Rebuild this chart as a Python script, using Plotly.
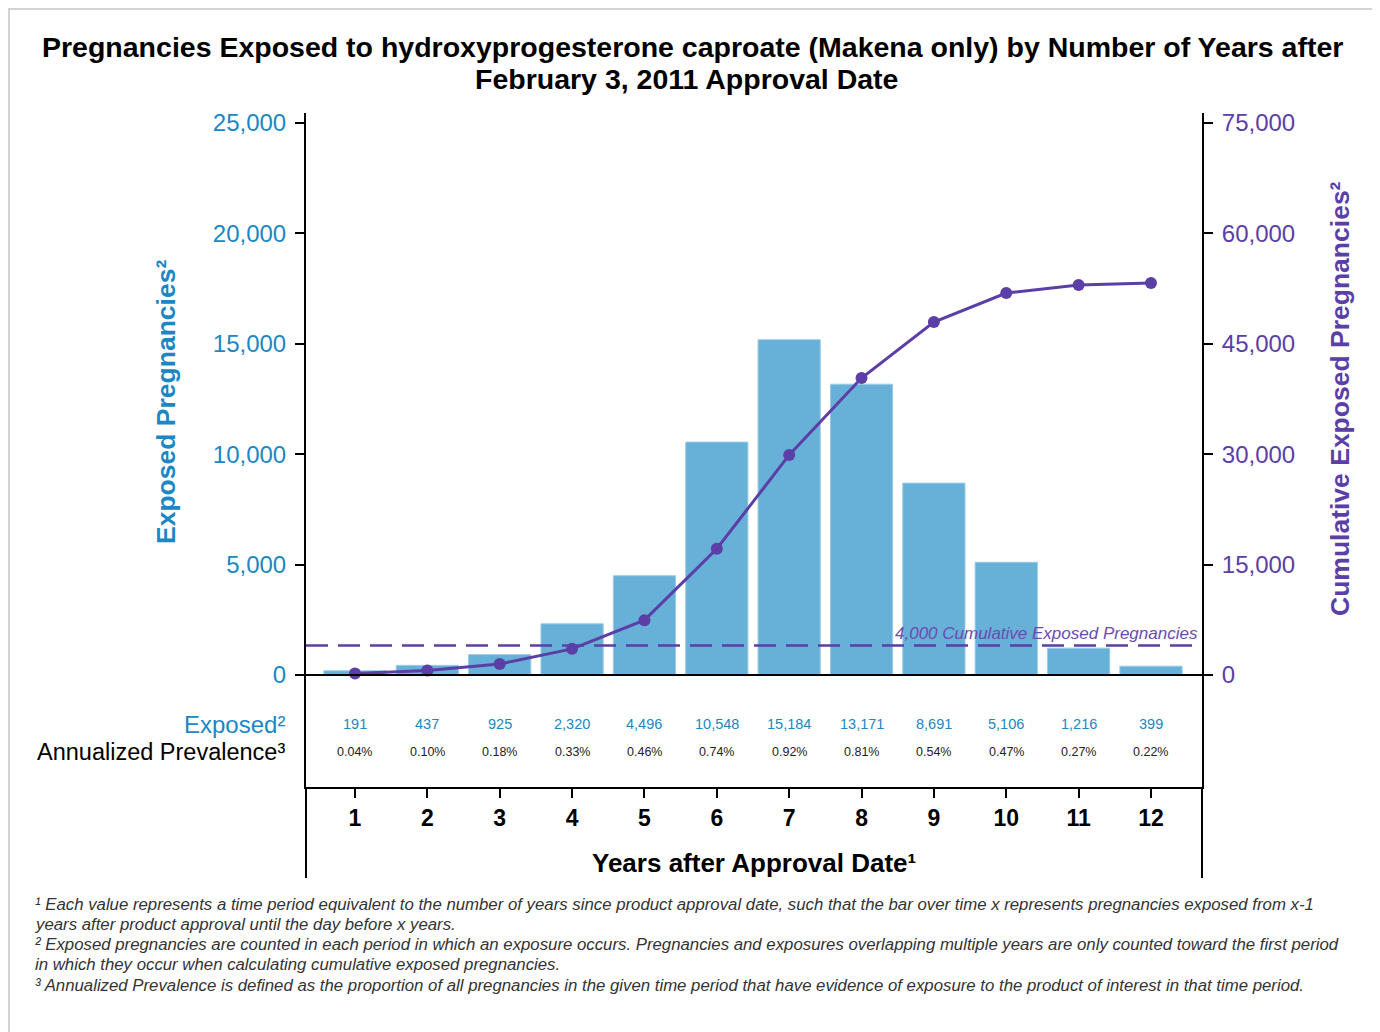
#!/usr/bin/env python

import plotly.graph_objects as go


YEARS = list(range(1, 13))
EXPOSED = [191, 437, 925, 2320, 4496, 10548, 15184, 13171, 8691, 5106, 1216, 399]
CUMULATIVE = [191, 600, 1500, 3550, 7450, 17150, 29900, 40350, 47950, 51900, 53000, 53250]
PREVALENCE = ['0.04%', '0.10%', '0.18%', '0.33%', '0.46%', '0.74%',
              '0.92%', '0.81%', '0.54%', '0.47%', '0.27%', '0.22%']
LEFT_TICKS = [0, 5000, 10000, 15000, 20000, 25000]
RIGHT_TICKS = [0, 15000, 30000, 45000, 60000, 75000]
THRESHOLD = 4000

TITLE_LINES = ['Pregnancies Exposed to hydroxyprogesterone caproate (Makena only) by Number of Years after',
               'February 3, 2011 Approval Date']
FOOTNOTES = [
    '¹ Each value represents a time period equivalent to the number of years since product approval date, '
    'such that the bar over time x represents pregnancies exposed from x-1',
    'years after product approval until the day before x years.',
    '² Exposed pregnancies are counted in each period in which an exposure occurs. Pregnancies and exposures '
    'overlapping multiple years are only counted toward the first period',
    'in which they occur when calculating cumulative exposed pregnancies.',
    '³ Annualized Prevalence is defined as the proportion of all pregnancies in the given time period '
    'that have evidence of exposure to the product of interest in that time period.',
]

BLUE = '#1b87c4'
BAR = '#67b0d7'
PURPLE = '#5b3ea6'
FONT = 'Liberation Sans, Arial, sans-serif'

# page geometry in screenshot pixels; the html body adds an 8px margin
W, H = 1380, 1032
OFF = 8
LEFT, RIGHT, TOP, BOTTOM = 306, 1202, 113, 787


def px_x(x):
    return (x - LEFT) / (RIGHT - LEFT)


def px_y(y):
    return (BOTTOM - y) / (BOTTOM - TOP)


def text(fig, x, y, s, size, color, xanchor='center', **kw):
    fig.add_annotation(x=px_x(x), y=px_y(y), xref='paper', yref='paper', text=s,
                       xanchor=xanchor, yanchor='middle', showarrow=False,
                       font=dict(size=size, color=color, **kw.pop('font', {})), **kw)


def main():
    fig = go.Figure()

    fig.add_trace(go.Bar(x=YEARS, y=EXPOSED, width=0.86,
                         marker=dict(color=BAR, line=dict(color='#9ccbe6', width=1)),
                         showlegend=False, hoverinfo='skip'))
    fig.add_trace(go.Scatter(x=YEARS, y=CUMULATIVE, yaxis='y2', mode='lines+markers',
                             line=dict(color=PURPLE, width=3),
                             marker=dict(color=PURPLE, size=12),
                             showlegend=False))

    # y range chosen so that 0..25,000 sits between the zero line and the top tick
    per_px = 25000 / (675 - 123)
    y_lo = -(BOTTOM - 675) * per_px
    y_hi = 25000 + (123 - TOP) * per_px

    axis_common = dict(showline=True, linecolor='black', linewidth=2,
                       ticks='outside', ticklen=9, tickwidth=2, tickcolor='black',
                       showgrid=False, zeroline=False)
    fig.update_layout(
        width=W - OFF, height=H - OFF,
        margin=dict(l=LEFT - OFF, r=W - RIGHT, t=TOP - OFF, b=H - BOTTOM),
        plot_bgcolor='white', paper_bgcolor='white',
        font=dict(family=FONT, color='black'),
        xaxis=dict(range=[0.323, 12.705], tickvals=YEARS, ticktext=[f'<b>{y}</b>' for y in YEARS],
                   tickfont=dict(size=23, color='black'), **axis_common),
        yaxis=dict(range=[y_lo, y_hi], tickvals=LEFT_TICKS, tickformat=',',
                   tickfont=dict(size=24, color=BLUE), ticklabelstandoff=4, **axis_common),
        yaxis2=dict(range=[3 * y_lo, 3 * y_hi], tickvals=RIGHT_TICKS, tickformat=',',
                    overlaying='y', side='right',
                    tickfont=dict(size=24, color=PURPLE), ticklabelstandoff=4, **axis_common),
    )

    # zero line, threshold line and the axis lines running down past the table
    fig.add_shape(type='line', xref='paper', yref='y', x0=0, x1=1, y0=0, y1=0,
                  line=dict(color='black', width=2))
    fig.add_shape(type='line', xref='paper', yref='y2', x0=0, x1=1, y0=THRESHOLD, y1=THRESHOLD,
                  line=dict(color=PURPLE, width=2.5, dash='22px,10px'))
    for xp in (0, 1):
        fig.add_shape(type='line', xref='paper', yref='paper', x0=xp, x1=xp,
                      y0=px_y(878), y1=0, line=dict(color='black', width=2))
    # thin grey frame of the original picture
    fig.add_shape(type='rect', xref='paper', yref='paper', x0=px_x(OFF + 1), x1=px_x(W + 20),
                  y0=px_y(H + 20), y1=px_y(OFF + 1), line=dict(color='#d4d4d4', width=2))

    fig.add_annotation(x=12.68, y=THRESHOLD, xref='x', yref='y2', xanchor='right', yanchor='bottom',
                       text='4,000 Cumulative Exposed Pregnancies', showarrow=False, yshift=1,
                       font=dict(size=17, color='#6a4bb3', style='italic'))

    # table rows under the chart
    for year, n, p in zip(YEARS, EXPOSED, PREVALENCE):
        fig.add_annotation(x=year, y=px_y(724), xref='x', yref='paper', text=f'{n:,}',
                           xanchor='center', yanchor='middle', showarrow=False,
                           font=dict(size=14.5, color=BLUE))
        fig.add_annotation(x=year, y=px_y(752), xref='x', yref='paper', text=p,
                           xanchor='center', yanchor='middle', showarrow=False,
                           font=dict(size=12.5, color='#222222'))
    text(fig, 287, 724, 'Exposed²', 24, BLUE, xanchor='right')
    text(fig, 287, 752, 'Annualized Prevalence³', 23.5, 'black', xanchor='right')

    # titles
    text(fig, 692, 47, f'<b>{TITLE_LINES[0]}</b>', 28.5, 'black')
    text(fig, 686, 79, f'<b>{TITLE_LINES[1]}</b>', 28.5, 'black')
    text(fig, 754, 863, '<b>Years after Approval Date¹</b>', 26, 'black')
    text(fig, 166, 402, '<b>Exposed Pregnancies²</b>', 26.5, BLUE, textangle=-90)
    text(fig, 1340, 399, '<b>Cumulative Exposed Pregnancies²</b>', 26.5, PURPLE, textangle=-90)

    # footnotes
    for i, line in enumerate(FOOTNOTES):
        text(fig, 33, 904 + i * 20.3, line, 16.8, '#333333', xanchor='left', font=dict(style='italic'))

    fig.write_html('out.html')


if __name__ == '__main__':
    main()
